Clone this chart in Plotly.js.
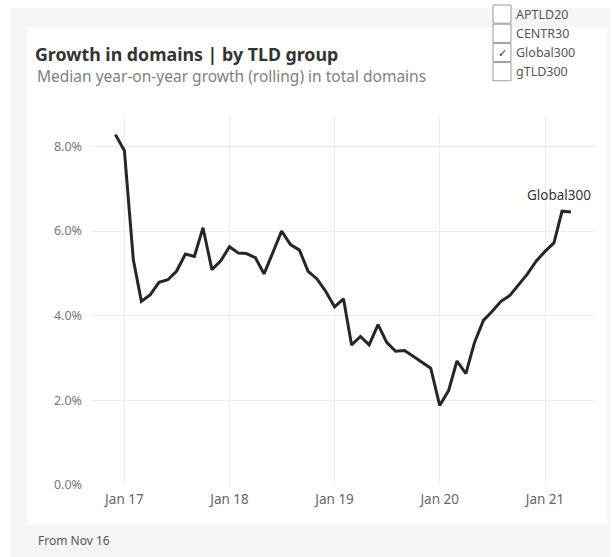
<!DOCTYPE html>
<html>
<head>
<meta charset="utf-8">
<script src="https://cdn.plot.ly/plotly-3.0.1.min.js"></script>
<style>html,body{margin:0;padding:0;background:#fff;}#chart{width:613px;height:557px;}</style>
</head>
<body>
<div id="chart"></div>
<script>
// ---- Data ----
const months = [
  '2016-12-01',
  '2017-01-01','2017-02-01','2017-03-01','2017-04-01','2017-05-01','2017-06-01',
  '2017-07-01','2017-08-01','2017-09-01','2017-10-01','2017-11-01','2017-12-01',
  '2018-01-01','2018-02-01','2018-03-01','2018-04-01','2018-05-01','2018-06-01',
  '2018-07-01','2018-08-01','2018-09-01','2018-10-01','2018-11-01','2018-12-01',
  '2019-01-01','2019-02-01','2019-03-01','2019-04-01','2019-05-01','2019-06-01',
  '2019-07-01','2019-08-01','2019-09-01','2019-10-01','2019-11-01','2019-12-01',
  '2020-01-01','2020-02-01','2020-03-01','2020-04-01','2020-05-01','2020-06-01',
  '2020-07-01','2020-08-01','2020-09-01','2020-10-01','2020-11-01','2020-12-01',
  '2021-01-01','2021-02-01','2021-03-01','2021-04-01'
];
const global300 = [
  8.28,
  7.90, 5.32, 4.34, 4.50, 4.79, 4.85,
  5.05, 5.46, 5.40, 6.08, 5.09, 5.29,
  5.63, 5.48, 5.47, 5.37, 4.99, 5.50,
  6.00, 5.68, 5.55, 5.05, 4.87, 4.58,
  4.21, 4.40, 3.31, 3.51, 3.31, 3.79,
  3.37, 3.16, 3.18, 3.04, 2.90, 2.76,
  1.88, 2.23, 2.93, 2.63, 3.37, 3.89,
  4.10, 4.34, 4.48, 4.73, 4.99, 5.29,
  5.52, 5.72, 6.47, 6.45
];
const seriesName = 'Global300';
const groups = ['APTLD20', 'CENTR30', 'Global300', 'gTLD300'];
const checked = [false, false, true, false];
const yTicks = [0, 2, 4, 6, 8];
const yTickLabels = ['0.0%', '2.0%', '4.0%', '6.0%', '8.0%'];
const titleText = 'Growth in domains | by TLD group';
const subtitleText = 'Median year-on-year growth (rolling) in total domains';
const footerText = 'From Nov 16';

// ---- Layout helpers (pixel -> paper) ----
const W = 613, H = 557;
const PL = 91, PR = 596, PT = 116, PB = 485;
const px = x => (x - PL) / (PR - PL);
const py = y => (PB - y) / (PB - PT);
const FONT = '"Noto Sans", "Open Sans", sans-serif';

const shapes = [
  {type:'rect', xref:'paper', yref:'paper', x0:px(10), x1:px(610), y0:py(557), y1:py(8),
   fillcolor:'#f5f5f5', line:{width:0}, layer:'below'},
  {type:'rect', xref:'paper', yref:'paper', x0:px(27), x1:px(607), y0:py(525), y1:py(27),
   fillcolor:'#ffffff', line:{width:0}, layer:'below'}
];

const annotations = [
  {text: subtitleText, xref:'paper', yref:'paper', x:px(35), y:py(76), xanchor:'left', yanchor:'middle',
   showarrow:false, font:{family:FONT, size:15.5, color:'#7f7f7f'}},
  {text: footerText, xref:'paper', yref:'paper', x:px(36), y:py(540), xanchor:'left', yanchor:'middle',
   showarrow:false, font:{family:FONT, size:12, color:'#555'}},
  {text: seriesName, xref:'x', yref:'y', x: months[months.length-1], y: global300[global300.length-1],
   xanchor:'center', yanchor:'bottom', xshift:-12, yshift:6, showarrow:false,
   font:{family:FONT, size:13.5, color:'#333'}}
];

const rowH = 19.2, boxTop = 5;
groups.forEach((g, i) => {
  const y0 = boxTop + i*rowH, y1 = y0 + rowH - 1;
  shapes.push({type:'rect', xref:'paper', yref:'paper', x0:px(493), x1:px(511), y0:py(y1), y1:py(y0),
    fillcolor:'#ffffff', line:{color:'#9a9a9a', width:1}, layer:'above'});
  annotations.push({text: g, xref:'paper', yref:'paper', x:px(514), y:py((y0+y1)/2), xanchor:'left', yanchor:'middle',
    showarrow:false, font:{family:FONT, size:12.5, color:'#555'}});
  if (checked[i]) {
    annotations.push({text:'✓', xref:'paper', yref:'paper', x:px(502), y:py((y0+y1)/2+1), xanchor:'center', yanchor:'middle',
      showarrow:false, font:{family:'DejaVu Sans', size:11, color:'#333'}});
  }
});

const trace = {
  type:'scatter', mode:'lines', x: months, y: global300, name: seriesName,
  line:{color:'#262626', width:3, shape:'linear'}, hoverinfo:'x+y'
};

const layout = {
  width:W, height:H,
  margin:{l:PL, r:W-PR, t:PT, b:H-PB, pad:0},
  paper_bgcolor:'#ffffff', plot_bgcolor:'rgba(0,0,0,0)',
  showlegend:false,
  font:{family:FONT, color:'#666'},
  title:{text:'<b>'+titleText+'</b>', xref:'container', yref:'container', x:35/W, y:1-55/H,
    xanchor:'left', yanchor:'middle', font:{family:FONT, size:17.8, color:'#333'}},
  xaxis:{type:'date', range:['2016-09-07','2021-06-27'], tickformat:'%b %y', dtick:'M12', tick0:'2017-01-01',
    showgrid:true, gridcolor:'#ececec', gridwidth:1, zeroline:false, showline:false, ticks:'',
    ticklabelstandoff:4, tickfont:{family:FONT, size:13.5, color:'#666'}, fixedrange:true},
  yaxis:{range:[0, 8.72], tickmode:'array', tickvals:yTicks, ticktext:yTickLabels,
    showgrid:true, gridcolor:'#ececec', gridwidth:1, zeroline:false, showline:false, ticks:'',
    ticklabelstandoff:8, tickfont:{family:FONT, size:12.5, color:'#777'}, fixedrange:true},
  shapes: shapes,
  annotations: annotations
};

Plotly.newPlot('chart', [trace], layout, {displayModeBar:false, staticPlot:true});
</script>
</body>
</html>
